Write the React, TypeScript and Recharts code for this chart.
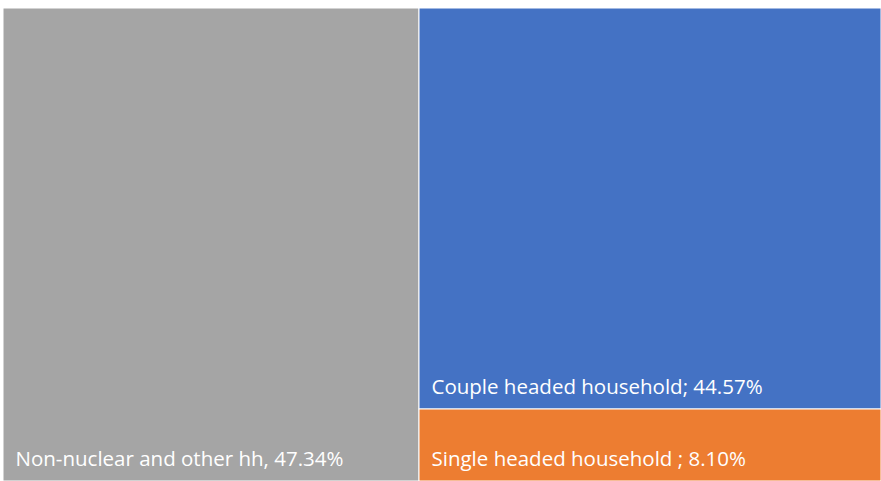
import React from "react";
import { Treemap } from "recharts";

const categories = ["Non-nuclear and other hh", "Couple headed household", "Single headed household "];
const values = [47.34, 44.57, 8.1];
const separators = [", ", "; ", "; "];
const COLORS = ["#A5A5A5", "#4472C4", "#ED7D31"];

const data = categories.map((name, i) => ({
  name,
  size: values[i],
  label: `${name}${separators[i]}${values[i].toFixed(2)}%`,
  color: COLORS[i],
}));

const Cell = (props: any) => {
  const { x, y, width, height, depth, label, color } = props;
  if (depth !== 1) return null;
  return (
    <g>
      <rect x={x} y={y} width={width} height={height} fill={color} stroke="#fff" strokeWidth={1} />
      <text
        x={x + 12.5}
        y={y + height - 15}
        fill="#fff"
        fontSize={20.5}
        fontFamily="'Open Sans', sans-serif"
      >
        {label}
      </text>
    </g>
  );
};

export default function App() {
  return (
    <div style={{ position: "absolute", left: 3, top: 8, width: 878, height: 473 }}>
      <Treemap
        width={878}
        height={473}
        data={data}
        dataKey="size"
        nameKey="name"
        isAnimationActive={false}
        content={<Cell />}
      />
    </div>
  );
}
